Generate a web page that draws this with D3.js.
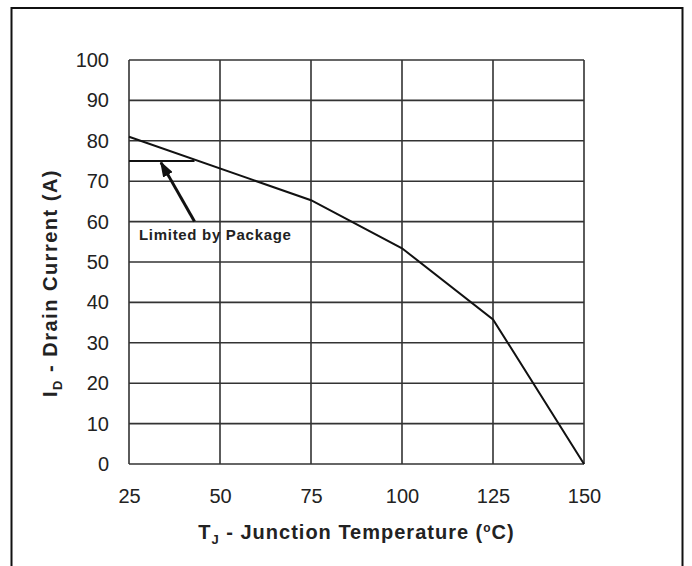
<!DOCTYPE html>
<html>
<head>
<meta charset="utf-8">
<script src="https://cdn.jsdelivr.net/npm/d3@7"></script>
<style>
  body { margin: 0; background: #fff; }
  text { font-family: "Liberation Sans", Arial, sans-serif; fill: #222; }
</style>
</head>
<body>
<div id="chart"></div>
<script>
var width = 692;
var height = 566;

// data
var xTicks = [25, 50, 75, 100, 125, 150];
var yTicks = [0, 10, 20, 30, 40, 50, 60, 70, 80, 90, 100];
var tempC = [25, 75, 100, 125, 150];
var drainA = [81, 65.3, 53.4, 35.8, 0];
var pkgTemp = [25, 43];
var pkgA = [75, 75];
var noteFrom = [43, 60];
var noteTo = [33.8, 74.6];
var noteText = "Limited by Package";

var plot = { left: 129, right: 584, top: 60, bottom: 464 };

var svg = d3.select("#chart")
  .append("svg")
  .attr("width", width)
  .attr("height", height);

// frame
svg.append("rect")
  .attr("x", 11.5).attr("y", 8)
  .attr("width", 671).attr("height", 580)
  .attr("fill", "none")
  .attr("stroke", "#111")
  .attr("stroke-width", 2);

var x = d3.scaleLinear().domain([25, 150]).range([plot.left, plot.right]);
var y = d3.scaleLinear().domain([0, 100]).range([plot.bottom, plot.top]);

// grid
svg.append("g")
  .selectAll("line.v")
  .data(xTicks)
  .enter().append("line")
  .attr("x1", d => x(d)).attr("x2", d => x(d))
  .attr("y1", y(0)).attr("y2", y(100))
  .attr("stroke", "#333").attr("stroke-width", 1.6);

svg.append("g")
  .selectAll("line.h")
  .data(yTicks)
  .enter().append("line")
  .attr("x1", x(25)).attr("x2", x(150))
  .attr("y1", d => y(d)).attr("y2", d => y(d))
  .attr("stroke", "#333").attr("stroke-width", 1.6);

// axes (labels only)
var xAxis = svg.append("g")
  .attr("transform", "translate(0," + plot.bottom + ")")
  .call(d3.axisBottom(x).tickValues(xTicks).tickSize(0).tickPadding(25));
xAxis.select(".domain").remove();
xAxis.selectAll("text").style("font-size", "20px").attr("fill", "#222");

var yAxis = svg.append("g")
  .attr("transform", "translate(" + plot.left + ",0)")
  .call(d3.axisLeft(y).tickValues(yTicks).tickSize(0).tickPadding(20));
yAxis.select(".domain").remove();
yAxis.selectAll("text").style("font-size", "20px").attr("fill", "#222");

// curve
var line = d3.line()
  .x(d => x(d[0]))
  .y(d => y(d[1]));

svg.append("path")
  .datum(d3.zip(tempC, drainA))
  .attr("d", line)
  .attr("fill", "none")
  .attr("stroke", "#111")
  .attr("stroke-width", 2);

svg.append("path")
  .datum(d3.zip(pkgTemp, pkgA))
  .attr("d", line)
  .attr("fill", "none")
  .attr("stroke", "#111")
  .attr("stroke-width", 2);

// annotation arrow
svg.append("defs").append("marker")
  .attr("id", "head")
  .attr("viewBox", "0 0 16 11")
  .attr("refX", 14).attr("refY", 5.5)
  .attr("markerWidth", 16 / 3).attr("markerHeight", 11 / 3)
  .attr("markerUnits", "strokeWidth")
  .attr("orient", "auto")
  .append("path")
  .attr("d", "M0,0L16,5.5L0,11z")
  .attr("fill", "#111");

svg.append("line")
  .attr("x1", x(noteFrom[0])).attr("y1", y(noteFrom[1]))
  .attr("x2", x(noteTo[0])).attr("y2", y(noteTo[1]))
  .attr("stroke", "#111").attr("stroke-width", 3)
  .attr("marker-end", "url(#head)");

svg.append("text")
  .attr("x", 139).attr("y", 240)
  .style("font-size", "15px")
  .style("font-weight", "bold")
  .style("letter-spacing", "0.7px")
  .text(noteText);

// axis titles
var xt = svg.append("text")
  .attr("x", (plot.left + plot.right) / 2)
  .attr("y", 539)
  .attr("text-anchor", "middle")
  .style("font-size", "20px")
  .style("font-weight", "bold")
  .style("letter-spacing", "1px");
xt.append("tspan").text("T");
xt.append("tspan").attr("dy", 5).style("font-size", "13px").text("J");
xt.append("tspan").attr("dy", -5).text(" - Junction Temperature (");
xt.append("tspan").attr("dy", -7).style("font-size", "12px").text("o");
xt.append("tspan").attr("dy", 7).text("C)");

var yt = svg.append("text")
  .attr("transform", "translate(57,283) rotate(-90)")
  .attr("text-anchor", "middle")
  .style("font-size", "20px")
  .style("font-weight", "bold")
  .style("letter-spacing", "1.5px");
yt.append("tspan").text("I");
yt.append("tspan").attr("dy", 5).style("font-size", "13px").text("D");
yt.append("tspan").attr("dy", -5).text(" - Drain Current (A)");
</script>
</body>
</html>
